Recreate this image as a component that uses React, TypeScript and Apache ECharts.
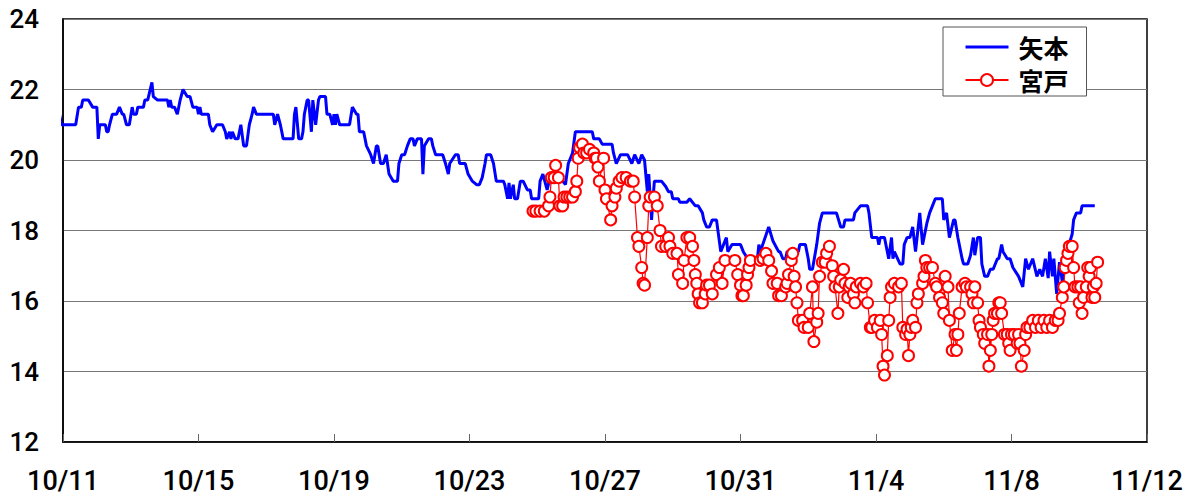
import React, { useEffect, useRef } from "react";
import * as echarts from "echarts";

// x values: hours since 10/11 00:00
const tickLabels = ["10/11", "10/15", "10/19", "10/23", "10/27", "10/31", "11/4", "11/8", "11/12"];
const yTicks = { min: 12, max: 24, step: 2 };
const seriesNames = ["矢本", "宮戸"];

const yamoto: [number, number][] = [
  [-3, 21.4], [-1, 21.0], [9, 21.0], [11, 21.5], [13, 21.5], [14, 21.7], [18, 21.7], [21, 21.5], [24, 21.5], [25, 20.6],
  [26, 21.0], [30, 21.0], [31, 20.8], [32, 20.8], [33, 21.0], [35, 21.3], [38, 21.3], [40, 21.5], [42, 21.3], [43, 21.3],
  [45, 21.0], [47, 21.0], [49, 21.5], [50, 21.3], [52, 21.3], [53, 21.5], [57, 21.5], [58, 21.7], [60, 21.7], [63, 22.2],
  [64, 21.8], [67, 21.7], [74, 21.7], [75, 21.5], [76, 21.7], [77, 21.5], [79, 21.5], [81, 21.3], [83, 21.7], [85, 22.0],
  [88, 21.8], [90, 21.8], [92, 21.5], [95, 21.5], [96, 21.3], [97, 21.5], [98, 21.3], [103, 21.3], [104, 21.0], [106, 20.8],
  [109, 21.0], [113, 21.0], [115, 20.8], [116, 20.6], [118, 20.8], [119, 20.6], [120, 20.8], [122, 20.6], [124, 20.6], [126, 21.0],
  [128, 20.4], [130, 20.4], [132, 21.0], [134, 21.3], [135, 21.5], [137, 21.3], [149, 21.3], [150, 21.0], [152, 21.3], [154, 21.0],
  [155, 20.8], [156, 20.6], [163, 20.6], [164, 21.3], [165, 21.5], [167, 20.6], [169, 20.6], [170, 20.8], [171, 21.3], [173, 21.7],
  [174, 21.7], [176, 20.8], [177, 21.7], [179, 21.0], [181, 21.7], [182, 21.8], [186, 21.8], [187, 21.3], [189, 21.3], [191, 21.0],
  [192, 21.3], [193, 21.0], [194, 21.3], [196, 21.0], [203, 21.0], [205, 21.5], [208, 21.3], [209, 21.3], [210, 20.8], [213, 20.8],
  [215, 20.4], [218, 20.15], [220, 19.9], [222, 20.4], [223, 20.4], [225, 19.9], [227, 19.9], [229, 20.15], [231, 19.6], [234, 19.4],
  [237, 19.4], [238, 19.9], [240, 20.15], [242, 20.15], [244, 20.4], [246, 20.6], [248, 20.6], [249, 20.4], [251, 20.6], [254, 20.6],
  [255, 19.6], [256, 20.4], [259, 20.6], [261, 20.6], [262, 20.4], [264, 20.15], [269, 20.15], [271, 19.9], [273, 19.6], [274, 19.9],
  [278, 20.15], [280, 20.15], [281, 19.9], [285, 19.9], [287, 19.6], [290, 19.4], [293, 19.3], [295, 19.3], [297, 19.5], [299, 19.9],
  [300, 20.15], [303, 20.15], [305, 19.9], [307, 19.4], [312, 19.4], [313, 19.3], [315, 18.9], [316, 19.35], [317, 18.9], [319, 19.3],
  [320, 18.9], [322, 18.9], [324, 19.4], [326, 19.4], [329, 19.15], [331, 19.15], [332, 18.9], [337, 18.9], [338, 19.4], [340, 19.6],
  [343, 19.15], [345, 19.5], [346, 19.55], [349, 19.55], [350, 19.4], [354, 19.4], [356, 19.3], [358, 19.9], [361, 20.2], [363, 20.8],
  [375, 20.8], [376, 20.6], [380, 20.6], [382, 20.45], [389, 20.45], [390, 20.2], [392, 19.9], [395, 20.15], [400, 20.15], [403, 19.9],
  [405, 20.15], [408, 19.9], [410, 20.15], [412, 20.0], [414, 19.1], [415, 19.6], [417, 18.3], [418, 18.9], [419, 19.4], [424, 19.4],
  [427, 19.25], [429, 19.1], [431, 19.1], [432, 18.9], [436, 18.9], [437, 18.8], [442, 18.8], [444, 18.9], [448, 18.7], [450, 18.7],
  [453, 18.5], [454, 18.3], [456, 18.1], [458, 18.1], [460, 18.3], [463, 18.3], [466, 17.4], [468, 17.6], [470, 17.8], [471, 17.4],
  [474, 17.6], [480, 17.6], [482, 17.4], [485, 17.2], [492, 17.2], [493, 17.6], [494, 17.4], [500, 18.1], [503, 17.7], [507, 17.4],
  [508, 17.4], [510, 17.2], [512, 17.2], [513, 17.4], [521, 17.4], [522, 17.6], [526, 17.6], [528, 17.2], [529, 16.9], [531, 16.9],
  [534, 17.6], [536, 18.2], [538, 18.5], [548, 18.5], [551, 18.1], [553, 18.1], [554, 18.3], [560, 18.3], [561, 18.5], [565, 18.7],
  [570, 18.7], [571, 18.5], [573, 17.8], [577, 17.8], [578, 17.6], [579, 17.8], [582, 17.8], [585, 17.2], [587, 17.8], [588, 17.2],
  [589, 17.4], [593, 17.05], [595, 17.05], [596, 17.6], [598, 17.8], [600, 17.8], [602, 18.1], [604, 17.4], [607, 18.5], [609, 17.6],
  [612, 18.2], [614, 18.5], [616, 18.7], [618, 18.9], [623, 18.9], [624, 18.3], [626, 18.5], [628, 17.8], [631, 18.3], [632, 18.3],
  [634, 17.8], [637, 17.2], [638, 17.05], [641, 17.05], [643, 17.3], [645, 17.8], [646, 17.3], [648, 17.8], [650, 17.8], [651, 17.05],
  [653, 16.7], [655, 16.7], [657, 16.9], [659, 16.9], [662, 17.2], [663, 17.2], [665, 17.6], [666, 17.4], [669, 17.2], [671, 17.2],
  [673, 16.95], [677, 16.7], [680, 16.4], [682, 17.2], [684, 16.9], [687, 17.2], [690, 16.7], [692, 16.9], [694, 16.7], [696, 17.2],
  [698, 16.65], [699, 17.4], [701, 16.7], [702, 17.2], [704, 16.2], [706, 17.1], [708, 16.55], [711, 17.2], [712, 17.5], [715, 17.9],
  [716, 18.3], [718, 18.5], [721, 18.5], [722, 18.7], [731, 18.7],
];

const miyato: [number, number][] = [
  [333, 18.55], [335, 18.55], [338, 18.55], [341, 18.55], [344, 18.7], [345, 18.95], [346, 19.5], [348, 19.5], [349, 19.85], [351, 19.5],
  [352, 18.7], [354, 18.7], [355, 18.95], [357, 18.95], [359, 18.95], [361, 18.95], [363, 19.1], [364, 19.4], [365, 20.05], [366, 20.35],
  [368, 20.45], [369, 20.2], [371, 20.2], [373, 20.3], [376, 20.2], [377, 20.05], [378, 20.05], [379, 19.8], [380, 19.4], [383, 20.05],
  [384, 19.15], [385, 18.9], [388, 18.3], [389, 18.7], [391, 18.95], [392, 19.2], [394, 19.4], [396, 19.5], [399, 19.5], [402, 19.4],
  [404, 19.4], [405, 18.95], [407, 17.8], [408, 17.55], [410, 16.95], [411, 16.5], [412, 16.45], [414, 17.8], [415, 18.7], [416, 18.95],
  [419, 18.95], [421, 18.7], [423, 18.0], [424, 17.55], [427, 17.55], [429, 17.8], [430, 17.55], [432, 17.35], [435, 17.35], [436, 16.75],
  [439, 16.5], [440, 17.15], [442, 17.8], [444, 17.8], [446, 17.55], [447, 17.15], [448, 16.75], [449, 16.5], [450, 16.2], [451, 15.95],
  [453, 15.95], [455, 16.2], [456, 16.45], [458, 16.45], [460, 16.2], [463, 16.75], [465, 16.95], [467, 16.5], [469, 17.15], [476, 17.15],
  [478, 16.75], [480, 16.45], [481, 16.15], [482, 16.15], [484, 16.45], [485, 16.75], [486, 16.95], [487, 17.15], [494, 17.15], [496, 17.2],
  [498, 17.35], [500, 17.15], [502, 16.85], [503, 16.5], [506, 16.5], [507, 16.15], [509, 16.15], [512, 16.4], [513, 16.5], [514, 16.75],
  [516, 17.15], [517, 17.35], [518, 16.7], [519, 16.4], [520, 15.95], [521, 15.45], [524, 15.45], [525, 15.25], [528, 15.25], [529, 15.65],
  [531, 16.4], [532, 14.85], [534, 15.4], [535, 15.65], [536, 16.7], [538, 17.1], [540, 17.1], [541, 17.35], [543, 17.55], [545, 17.0],
  [546, 16.7], [547, 16.4], [549, 15.65], [550, 16.4], [551, 16.6], [553, 16.9], [554, 16.5], [556, 16.1], [557, 16.4], [558, 16.5],
  [560, 16.2], [561, 15.95], [562, 16.4], [565, 16.5], [567, 16.4], [569, 16.5], [570, 15.95], [572, 15.25], [573, 15.25], [575, 15.45],
  [577, 15.25], [579, 15.45], [580, 15.05], [581, 14.15], [582, 13.9], [584, 14.45], [585, 15.45], [586, 16.1], [587, 16.4], [589, 16.5],
  [592, 16.4], [594, 16.5], [595, 15.25], [597, 15.05], [598, 15.2], [599, 14.45], [600, 15.05], [601, 15.25], [602, 15.45], [604, 15.25],
  [605, 15.95], [606, 16.2], [609, 16.5], [610, 16.7], [611, 17.15], [612, 16.95], [614, 16.95], [616, 16.95], [618, 16.5], [619, 16.4],
  [621, 16.1], [623, 15.95], [624, 15.65], [625, 16.7], [627, 16.4], [628, 15.45], [630, 14.6], [632, 15.05], [633, 14.6], [634, 15.05],
  [635, 15.65], [637, 16.4], [639, 16.5], [640, 16.4], [643, 16.4], [644, 16.2], [645, 15.95], [646, 16.4], [648, 15.95], [649, 15.45],
  [650, 15.25], [652, 15.05], [653, 14.8], [655, 15.05], [656, 14.15], [657, 14.6], [658, 15.05], [659, 15.45], [660, 15.65], [662, 15.65],
  [663, 15.95], [664, 15.95], [665, 15.65], [667, 15.05], [669, 15.05], [670, 14.8], [671, 14.6], [672, 15.05], [674, 15.05], [676, 14.8],
  [677, 15.05], [678, 14.8], [679, 14.15], [681, 14.6], [682, 15.05], [683, 15.25], [685, 15.25], [687, 15.45], [689, 15.25], [691, 15.45],
  [693, 15.25], [695, 15.45], [697, 15.25], [699, 15.45], [701, 15.25], [703, 15.45], [705, 15.45], [706, 15.65], [708, 16.1], [709, 16.4],
  [710, 16.95], [711, 17.15], [712, 17.35], [713, 17.55], [715, 17.55], [716, 16.95], [717, 16.4], [719, 16.4], [720, 15.95], [721, 16.4],
  [722, 15.65], [723, 16.1], [725, 16.4], [726, 16.95], [727, 16.7], [728, 16.95], [729, 16.1], [730, 16.4], [731, 16.1], [732, 16.5],
  [733, 17.1],
];

const HOURS_PER_TICK = 96;

export default function App() {
  const ref = useRef<HTMLDivElement>(null);
  useEffect(() => {
    if (!ref.current) return;
    const chart = echarts.init(ref.current, undefined, { renderer: "svg" });
    const labelFont = "Roboto, 'Liberation Sans', Arial, sans-serif";
    chart.setOption({
      animation: false,
      backgroundColor: "#ffffff",
      grid: {
        left: 63,
        top: 19,
        right: 42,
        bottom: 54,
        show: true,
        borderColor: "#000",
        borderWidth: 1.5,
        backgroundColor: "transparent",
      },
      legend: {
        data: [
          { name: seriesNames[0], itemStyle: { opacity: 0 }, lineStyle: { width: 3 } },
          { name: seriesNames[1] },
        ],
        orient: "vertical",
        left: 943,
        top: 27,
        padding: [7, 18, 3, 21],
        itemGap: 7,
        itemWidth: 43,
        itemHeight: 15,
        backgroundColor: "#fff",
        borderColor: "#555",
        borderWidth: 1,
        z: 10,
        textStyle: {
          fontFamily: "'Noto Sans CJK JP', sans-serif",
          fontWeight: "bold",
          fontSize: 25,
          lineHeight: 26,
          color: "#000",
          padding: [0, 0, 0, 5],
        },
      },
      xAxis: {
        type: "value",
        min: 0,
        max: (tickLabels.length - 1) * HOURS_PER_TICK,
        interval: HOURS_PER_TICK,
        axisLine: { show: true, lineStyle: { color: "#000", width: 1.5 } },
        axisTick: { show: true, inside: true, length: 8, lineStyle: { color: "#666", width: 1 } },
        splitLine: { show: false },
        axisLabel: {
          fontFamily: labelFont,
          fontWeight: 500,
          fontSize: 27,
          lineHeight: 24,
          color: "#000",
          margin: 27,
          formatter: (v: number) => tickLabels[Math.round(v / HOURS_PER_TICK)] ?? "",
        },
      },
      yAxis: {
        type: "value",
        min: yTicks.min,
        max: yTicks.max,
        interval: yTicks.step,
        axisLine: { show: true, lineStyle: { color: "#000", width: 1.5 } },
        axisTick: { show: false },
        splitLine: { show: true, lineStyle: { color: "#777", width: 1.2 } },
        axisLabel: {
          fontFamily: labelFont,
          fontWeight: 500,
          fontSize: 26,
          color: "#000",
          margin: 24,
          padding: [6, 0, 0, 0],
        },
      },
      series: [
        {
          name: seriesNames[0],
          type: "line",
          data: yamoto,
          symbol: "none",
          clip: true,
          lineStyle: { color: "#0000ff", width: 3 },
          itemStyle: { color: "#0000ff" },
          z: 2,
        },
        {
          name: seriesNames[1],
          type: "line",
          data: miyato,
          symbol: "emptyCircle",
          symbolSize: 11,
          clip: true,
          lineStyle: { color: "#ff0000", width: 1.2 },
          itemStyle: { color: "#ff0000", borderColor: "#ff0000", borderWidth: 1.1 },
          z: 3,
        },
      ],
    });
    return () => chart.dispose();
  }, []);
  return (
    <div
      ref={ref}
      style={{ position: "fixed", left: 0, top: 0, width: 1189, height: 496, background: "#fff" }}
    />
  );
}
